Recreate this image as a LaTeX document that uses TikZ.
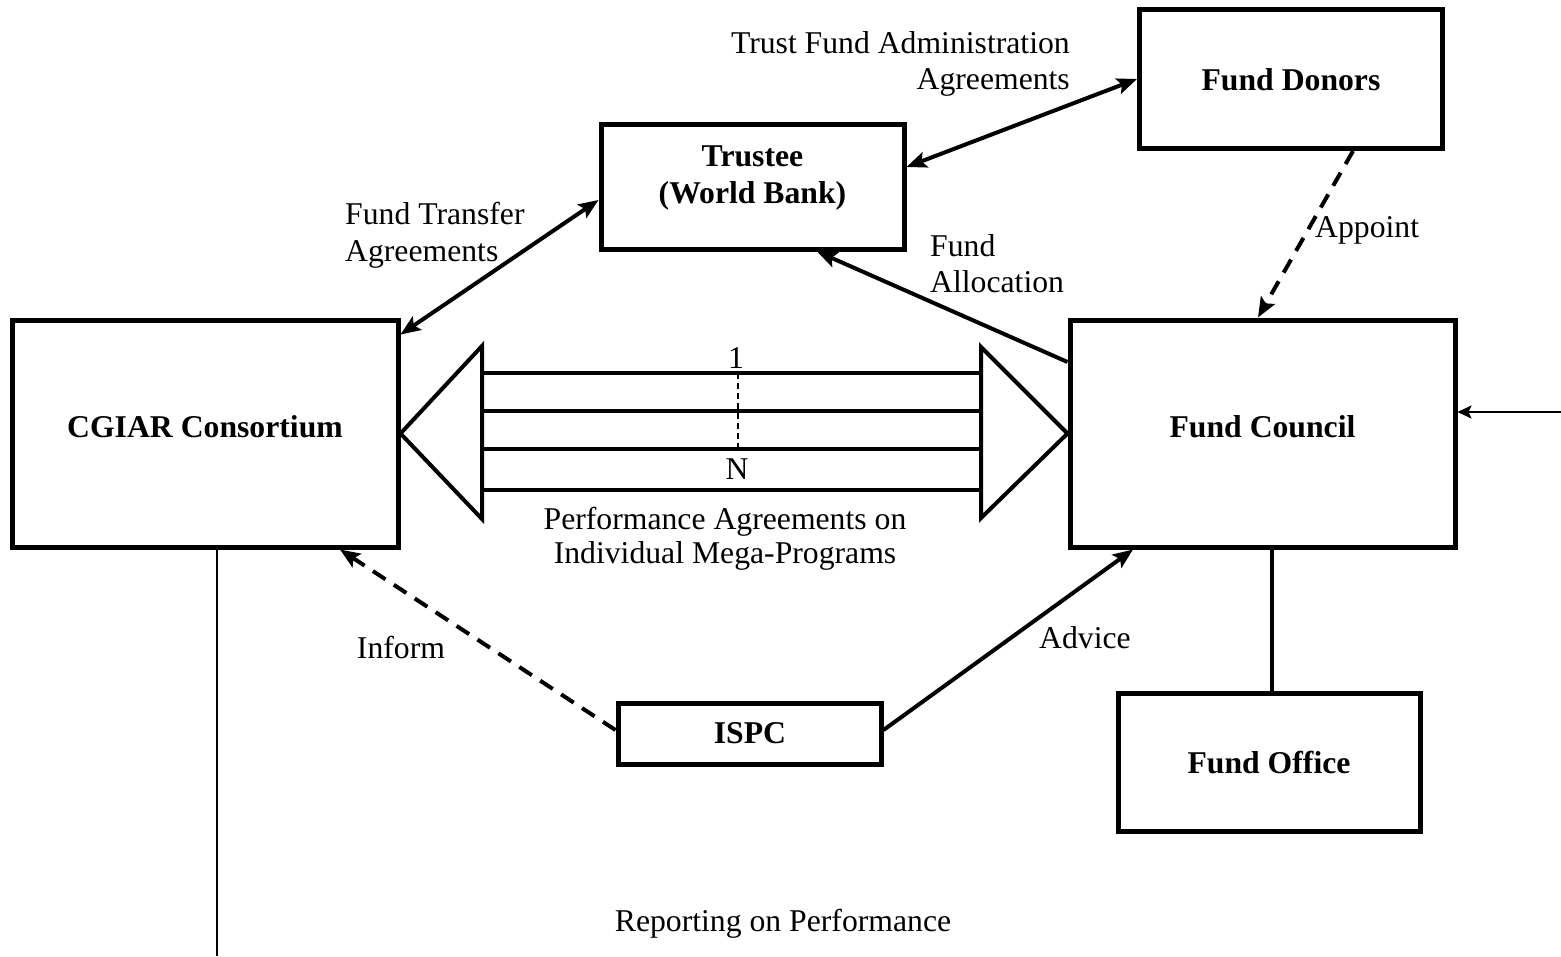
\documentclass[tikz,border=0pt]{standalone}
\usepackage{fontspec}
\setmainfont{Liberation Serif}
\usetikzlibrary{arrows.meta,calc}
\begin{document}
\begin{tikzpicture}[x=1pt,y=-1pt,
  lbl/.style={font=\fontsize{31.7}{36.5}\selectfont, inner sep=0pt},
  title/.style={font=\fontsize{31.7}{36.5}\selectfont\bfseries, inner sep=0pt},
  box/.style={draw, line width=5pt, inner sep=0pt},
  link/.style={line width=4pt},
  dashlink/.style={line width=4pt, dash pattern=on 15pt off 10pt},
  thin/.style={line width=1.8pt},
  >={Stealth[length=20pt,width=16pt,inset=4pt]}]

% canvas
\fill[white] (0,0) rectangle (1561,956);
\useasboundingbox (0,0) rectangle (1561,956);

% boxes
\node[box, minimum width=386pt, minimum height=227pt] (cgiar)   at (205,433.5) {};
\node[box, minimum width=303pt, minimum height=125pt] (trustee) at (752.5,186.5) {};
\node[box, minimum width=303pt, minimum height=139pt] (donors)  at (1291,79) {};
\node[box, minimum width=385pt, minimum height=227pt] (council) at (1262.5,433.5) {};
\node[box, minimum width=263pt, minimum height=61pt]  (ispc)    at (749.5,733.5) {};
\node[box, minimum width=302pt, minimum height=138pt] (office)  at (1269,762) {};

% box titles
\node[title] (cgiarT)   at (205,427) {CGIAR Consortium};
\node[title, align=center, anchor=north] (trusteeT) at (752.5,146) {Trustee\\(World Bank)};
\node[title] (donorsT)  at (1291,80) {Fund Donors};
\node[title] (councilT) at (1262.5,427) {Fund Council};
\node[title] (ispcT)    at (750,733) {ISPC};
\node[title] (officeT)  at (1269,763) {Fund Office};

% agreement arrow between consortium and council
\draw[line width=4pt, line join=miter] (cgiar.east) -- (482,346) -- (482,519) -- cycle;
\draw[line width=4pt, line join=miter] (981,347) -- (981,518) -- (council.west) -- cycle;
\foreach \yy in {373,411,449,490}
  \draw[line width=3.5pt] (482,\yy) -- (981,\yy);
\draw[line width=1.5pt, dash pattern=on 6pt off 4pt] (738,373) -- (738,449);
\node[lbl, anchor=north] (one) at (736,347) {1};
\node[lbl, anchor=north] (enn) at (737,459) {N};

% connectors
\draw[link, <->] ([yshift=-17pt]cgiar.north east) -- ([yshift=-13.5pt]trustee.west);
\draw[link, <->] ([yshift=19.5pt]trustee.east) -- (donors.west);
\draw[link, ->] ([yshift=71.5pt]council.west) -- ([xshift=64.5pt]trustee.south);
\draw[dashlink, ->] ([xshift=62pt]donors.south) -- ([xshift=-4.5pt]council.north);
\draw[dashlink, ->] ([yshift=3.5pt]ispc.west) -- ([xshift=135pt]cgiar.south);
\draw[link, ->] ([yshift=3.5pt]ispc.east) -- ([xshift=-129.5pt]council.south);
\coordinate (fo) at ([xshift=3pt]office.north);
\draw[link] (fo |- council.south) -- (fo);
\coordinate (ext) at (1561,412);
\draw[line width=2pt, -{Stealth[length=14pt,width=13pt,inset=3pt]}] (ext) -- (ext -| council.east);
\coordinate (rpt) at (217,956);
\draw[thin] (rpt |- cgiar.south) -- (rpt);

% labels
\node[lbl, align=right, anchor=north east] (tfa) at (1070,31) {Trust Fund Administration\\Agreements};
\node[lbl, align=left, anchor=north west] (fta) at (345,202) {Fund Transfer\\Agreements};
\node[lbl, align=left, anchor=north west] (falloc) at (930,234) {Fund\\Allocation};
\node[lbl, anchor=north west] (appoint) at (1315,216) {Appoint};
\node[lbl, anchor=north] (inform) at (401,636) {Inform};
\node[lbl, anchor=north] (advice) at (1085,626) {Advice};
\node[lbl, align=center, anchor=north] (perf) at (725,507) {Performance Agreements on\\[-2.5pt]Individual Mega-Programs};
\node[lbl, anchor=north] (report) at (783,909) {Reporting on Performance};
\end{tikzpicture}
\end{document}
